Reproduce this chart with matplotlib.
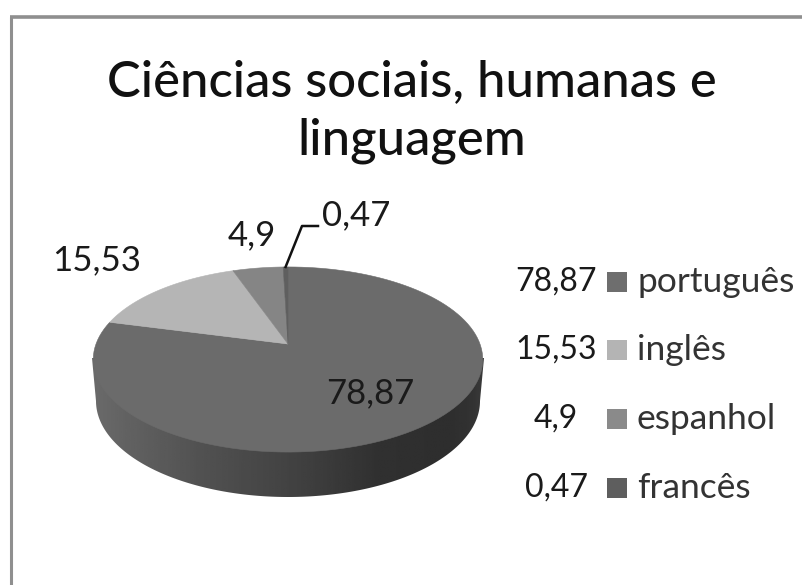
import numpy as np
import matplotlib
matplotlib.use('Agg')
import matplotlib.pyplot as plt
from matplotlib.patches import Polygon, Rectangle

# Dados do grafico
titulo = ['Ciências sociais, humanas e', 'linguagem']
linguas = ['português', 'inglês', 'espanhol', 'francês']
valores = [78.87, 15.53, 4.9, 0.47]
rotulos = ['78,87', '15,53', '4,9', '0,47']
cores = ['#6b6b6b', '#b5b5b5', '#858585', '#5f5f5f']

plt.rcParams['font.family'] = ['Lato', 'DejaVu Sans']

fig = plt.figure(figsize=(8.02, 5.85), dpi=100)
ax = fig.add_axes([0, 0, 1, 1])
ax.axis('off')

# perspectiva do disco: circulo unitario -> pixels
CX, AY, C, A, K = 288, 344, 192, -32.3, 0.1676


def proj(u, v):
    d = 1 + K * v
    return CX + C * u / d, (AY + A * v) / d


# lateral do disco com degrade
bt = np.linspace(np.pi, 2 * np.pi, 200)
bx = 288 + 192 * np.cos(bt)
by = 401 - 96 * np.sin(bt)
lado = np.column_stack([np.r_[92, bx, 484], np.r_[358, by, 358]])
gx = np.linspace(90, 486, 200)
cinza = np.interp(gx, [90, 130, 200, 290, 380, 450, 475, 486],
                  [0.42, 0.38, 0.32, 0.26, 0.19, 0.18, 0.2, 0.24])
im = ax.imshow(cinza[np.newaxis, :], extent=(90, 486, 500, 340), cmap='gray',
               vmin=0, vmax=1, aspect='auto', zorder=1)
im.set_clip_path(Polygon(lado, closed=True, transform=ax.transData))

# fatias: comecam no topo e seguem no sentido horario
ini = 0.0
total = sum(valores)
meios = []
for val, cor in zip(valores, cores):
    fim = ini + val / total
    a = np.pi / 2 - 2 * np.pi * np.linspace(ini, fim, 120)
    px, py = proj(np.cos(a), np.sin(a))
    pts = np.column_stack([np.r_[CX, px], np.r_[AY, py]])
    ax.add_patch(Polygon(pts, closed=True, facecolor=cor, edgecolor=cor, lw=0.4, zorder=2))
    meios.append((ini + fim) / 2)
    ini = fim

# linha de chamada do frances
am = np.pi / 2 - 2 * np.pi * meios[3]
lx, ly = proj(np.cos(am), np.sin(am))
ax.plot([lx, 302, 318], [ly, 226, 226], color='#111111', lw=1.8, zorder=3)

# titulo
ax.text(412, 82, titulo[0], ha='center', va='center', fontsize=36.5, color='#111111',
        fontweight='medium', zorder=4)
ax.text(412, 141, titulo[1], ha='center', va='center', fontsize=36.5, color='#111111',
        fontweight='medium', zorder=4)

# rotulos no disco
pos_rot = [(370, 393), (97, 260), (252, 235), (356, 215)]
for (x, y), r in zip(pos_rot, rotulos):
    ax.text(x, y, r, ha='center', va='center', fontsize=25, color='#1a1a1a', zorder=4)

# legenda
leg_y = [282, 350, 419, 488]
for y, r, nome, cor in zip(leg_y, rotulos, linguas, ['#6e6e6e', '#b4b4b4', '#8a8a8a', '#5e5e5e']):
    ax.text(556, y, r, ha='center', va='center', fontsize=23, color='#1a1a1a')
    ax.add_patch(Rectangle((607, y - 10), 20, 20, facecolor=cor, edgecolor='none'))
    ax.text(637, y, nome, ha='left', va='center', fontsize=25.5, color='#333333')

# moldura (so topo e esquerda aparecem)
ax.plot([11, 11], [585, 17], color='#8f8f8f', lw=2.2, zorder=5, solid_capstyle='butt')
ax.plot([10, 802], [17, 17], color='#8f8f8f', lw=2.6, zorder=5, solid_capstyle='butt')

ax.set_xlim(0, 802)
ax.set_ylim(585, 0)
fig.savefig('out.png', dpi=100, facecolor='white')
